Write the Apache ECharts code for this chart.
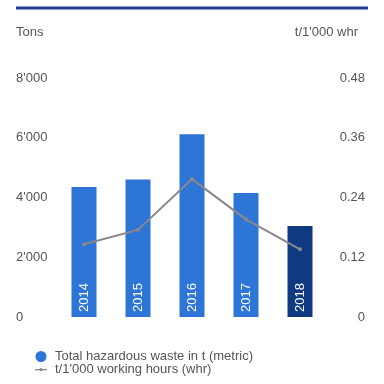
<!DOCTYPE html>
<html><head><meta charset="utf-8">
<script src="https://cdn.jsdelivr.net/npm/echarts@6/dist/echarts.min.js"></script>
<style>html,body{margin:0;padding:0;background:#fff}#c{width:384px;height:384px}</style>
</head><body><div id="c"></div>
<script>
const years = ['2014','2015','2016','2017','2018'];
const wasteTons = [4350, 4600, 6120, 4150, 3050];
const perWhr = [0.146, 0.175, 0.277, 0.196, 0.136];
const leftTicks = [0, 2000, 4000, 6000, 8000];
const rightTicks = [0, 0.12, 0.24, 0.36, 0.48];
const seriesNames = ['Total hazardous waste in t (metric)', "t/1'000 working hours (whr)"];
const axisTitles = ['Tons', "t/1'000 whr"];

const font = 'Liberation Sans, Arial, sans-serif';
const txt = '#555';
const chart = echarts.init(document.getElementById('c'));
chart.setOption({
  animation: false,
  textStyle: {fontFamily: font},
  grid: {left: 57, right: 57, top: 78, bottom: 67},
  graphic: [
    {type: 'line', shape: {x1: 16, y1: 8, x2: 368, y2: 8}, style: {stroke: '#1d3f8f', lineWidth: 3}},
    {type: 'text', left: 16, top: 26, style: {text: axisTitles[0], fill: txt, font: '13px ' + font}},
    {type: 'text', right: 26, top: 26, style: {text: axisTitles[1], fill: txt, font: '13px ' + font}}
  ],
  legend: {
    orient: 'vertical', left: 35, top: 350, padding: 0, height: 30, itemWidth: 12, itemHeight: 11, itemGap: 0,
    textStyle: {color: txt, fontSize: 13, fontFamily: font, lineHeight: 11, padding: [0, 0, 0, 3]},
    data: [
      {name: seriesNames[0], icon: 'circle', itemStyle: {color: '#2e75d8'}},
      {name: seriesNames[1], icon: 'path://M0,0L0,0Z M0,11L0,11Z M0,5L12,5L12,6.2L0,6.2Z M6,3.9A1.7,1.7 0 1 1 6,7.3A1.7,1.7 0 1 1 6,3.9Z',
       itemStyle: {color: '#888', borderWidth: 0}}
    ]
  },
  xAxis: {type: 'category', data: years, axisLine: {show: false}, axisTick: {show: false}, axisLabel: {show: false}},
  yAxis: [
    {type: 'value', min: leftTicks[0], max: leftTicks[leftTicks.length-1], interval: 2000,
     splitLine: {show: false}, axisLine: {show: false}, axisTick: {show: false},
     axisLabel: {align: 'left', margin: 41, color: txt, fontSize: 13,
       formatter: v => v === 0 ? '0' : String(v).replace(/(\d)(?=(\d{3})+$)/g, "$1'")}},
    {type: 'value', min: rightTicks[0], max: rightTicks[rightTicks.length-1], interval: 0.12,
     splitLine: {show: false}, axisLine: {show: false}, axisTick: {show: false},
     axisLabel: {align: 'right', margin: 38, color: txt, fontSize: 13,
       formatter: v => v === 0 ? '0' : v.toFixed(2)}}
  ],
  series: [
    {name: seriesNames[0], type: 'bar', barWidth: 25, yAxisIndex: 0,
     itemStyle: {color: '#2e75d8'},
     data: wasteTons.map((v, i) => i === wasteTons.length - 1 ? {value: v, itemStyle: {color: '#0f3a82'}} : v),
     label: {show: true, position: 'insideBottom', rotate: 90, align: 'left', verticalAlign: 'middle',
       distance: 5, color: '#fff', fontSize: 13, formatter: p => years[p.dataIndex]}},
    {name: seriesNames[1], type: 'line', yAxisIndex: 1, data: perWhr,
     symbol: 'circle', symbolSize: 4, itemStyle: {color: '#888'}, lineStyle: {color: '#888', width: 2}}
  ]
});
</script></body></html>
